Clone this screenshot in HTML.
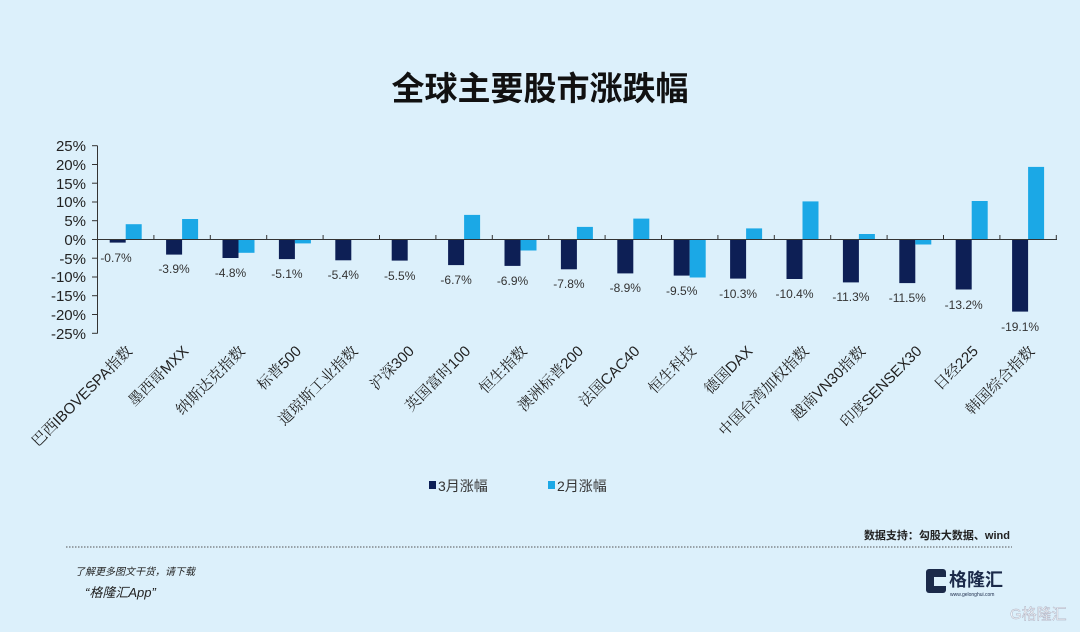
<!DOCTYPE html>
<html><head><meta charset="utf-8"><style>
body{margin:0;background:#dcf0fb;}
svg{display:block;font-family:"Liberation Sans","Noto Sans CJK SC",sans-serif;}
.cat{font-family:"Liberation Sans","Noto Serif CJK SC",serif;font-size:15px;fill:#222;}
.v{font-size:12px;fill:#333;text-anchor:middle;}
.y{font-size:15px;fill:#222;text-anchor:end;}
</style></head><body>
<svg width="1080" height="632" viewBox="0 0 1080 632">
<rect width="1080" height="632" fill="#dcf0fb"/>
<text x="540" y="100" text-anchor="middle" font-size="33" font-weight="bold" fill="#111">全球主要股市涨跌幅</text>
<g class="y">
<text x="86" y="151">25%</text><text x="86" y="170">20%</text><text x="86" y="189">15%</text>
<text x="86" y="207">10%</text><text x="86" y="226">5%</text><text x="86" y="245">0%</text>
<text x="86" y="264">-5%</text><text x="86" y="282">-10%</text><text x="86" y="301">-15%</text>
<text x="86" y="320">-20%</text><text x="86" y="339">-25%</text>
</g>
<g stroke="#333" stroke-width="1">
<line x1="97.5" y1="145.7" x2="97.5" y2="333.5"/>
<line x1="92" y1="145.7" x2="97.5" y2="145.7"/><line x1="92" y1="164.5" x2="97.5" y2="164.5"/>
<line x1="92" y1="183.2" x2="97.5" y2="183.2"/><line x1="92" y1="202" x2="97.5" y2="202"/>
<line x1="92" y1="220.7" x2="97.5" y2="220.7"/><line x1="92" y1="239.5" x2="97.5" y2="239.5"/>
<line x1="92" y1="258.2" x2="97.5" y2="258.2"/><line x1="92" y1="277" x2="97.5" y2="277"/>
<line x1="92" y1="295.7" x2="97.5" y2="295.7"/><line x1="92" y1="314.5" x2="97.5" y2="314.5"/>
<line x1="92" y1="333.3" x2="97.5" y2="333.3"/>
</g>
<!-- March bars -->
<g fill="#0d1f55">
<rect x="109.7" y="240" width="16" height="2.6"/>
<rect x="166.1" y="240" width="16" height="14.6"/>
<rect x="222.5" y="240" width="16" height="18"/>
<rect x="278.9" y="240" width="16" height="19.1"/>
<rect x="335.3" y="240" width="16" height="20.3"/>
<rect x="391.7" y="240" width="16" height="20.6"/>
<rect x="448.1" y="240" width="16" height="25.1"/>
<rect x="504.5" y="240" width="16" height="25.9"/>
<rect x="560.9" y="240" width="16" height="29.3"/>
<rect x="617.3" y="240" width="16" height="33.4"/>
<rect x="673.7" y="240" width="16" height="35.6"/>
<rect x="730.1" y="240" width="16" height="38.6"/>
<rect x="786.5" y="240" width="16" height="39"/>
<rect x="842.9" y="240" width="16" height="42.4"/>
<rect x="899.3" y="240" width="16" height="43.1"/>
<rect x="955.7" y="240" width="16" height="49.5"/>
<rect x="1012.1" y="240" width="16" height="71.6"/>
</g>
<!-- Feb bars -->
<g fill="#1ba8e6">
<rect x="125.7" y="224.2" width="16" height="15.8"/>
<rect x="182.1" y="219" width="16" height="21"/>
<rect x="238.5" y="240" width="16" height="12.8"/>
<rect x="294.9" y="240" width="16" height="3.4"/>
<rect x="464.1" y="214.9" width="16" height="25.1"/>
<rect x="520.5" y="240" width="16" height="10.5"/>
<rect x="576.9" y="226.9" width="16" height="13.1"/>
<rect x="633.3" y="218.6" width="16" height="21.4"/>
<rect x="689.7" y="240" width="16" height="37.5"/>
<rect x="746.1" y="228.4" width="16" height="11.6"/>
<rect x="802.5" y="201.4" width="16" height="38.6"/>
<rect x="858.9" y="234" width="16" height="6"/>
<rect x="915.3" y="240" width="16" height="4.5"/>
<rect x="971.7" y="201" width="16" height="39"/>
<rect x="1028.1" y="166.9" width="16" height="73.1"/>
</g>
<g stroke="#333" stroke-width="1">
<line x1="97.5" y1="239.5" x2="1057" y2="239.5"/>
<line x1="153.9" y1="239.5" x2="153.9" y2="235"/><line x1="210.3" y1="239.5" x2="210.3" y2="235"/>
<line x1="266.7" y1="239.5" x2="266.7" y2="235"/><line x1="323.1" y1="239.5" x2="323.1" y2="235"/>
<line x1="379.5" y1="239.5" x2="379.5" y2="235"/><line x1="435.9" y1="239.5" x2="435.9" y2="235"/>
<line x1="492.3" y1="239.5" x2="492.3" y2="235"/><line x1="548.7" y1="239.5" x2="548.7" y2="235"/>
<line x1="605.1" y1="239.5" x2="605.1" y2="235"/><line x1="661.5" y1="239.5" x2="661.5" y2="235"/>
<line x1="717.9" y1="239.5" x2="717.9" y2="235"/><line x1="774.3" y1="239.5" x2="774.3" y2="235"/>
<line x1="830.7" y1="239.5" x2="830.7" y2="235"/><line x1="887.1" y1="239.5" x2="887.1" y2="235"/>
<line x1="943.5" y1="239.5" x2="943.5" y2="235"/><line x1="999.9" y1="239.5" x2="999.9" y2="235"/>
<line x1="1056.3" y1="239.5" x2="1056.3" y2="235"/>
</g>
<g class="v">
<text x="116" y="262">-0.7%</text>
<text x="174" y="273">-3.9%</text>
<text x="230.5" y="277">-4.8%</text>
<text x="286.9" y="278">-5.1%</text>
<text x="343.3" y="279">-5.4%</text>
<text x="399.7" y="280">-5.5%</text>
<text x="456.1" y="284">-6.7%</text>
<text x="512.5" y="285">-6.9%</text>
<text x="568.9" y="288">-7.8%</text>
<text x="625.3" y="292">-8.9%</text>
<text x="681.7" y="295">-9.5%</text>
<text x="738.1" y="298">-10.3%</text>
<text x="794.5" y="298">-10.4%</text>
<text x="850.9" y="301">-11.3%</text>
<text x="907.3" y="302">-11.5%</text>
<text x="963.7" y="309">-13.2%</text>
<text x="1020.1" y="331">-19.1%</text>
</g>
<g class="cat" text-anchor="end">
<text transform="translate(133,352) rotate(-45)">巴西IBOVESPA指数</text>
<text transform="translate(189.4,352) rotate(-45)">墨西哥MXX</text>
<text transform="translate(245.8,352) rotate(-45)">纳斯达克指数</text>
<text transform="translate(302.2,352) rotate(-45)">标普500</text>
<text transform="translate(358.6,352) rotate(-45)">道琼斯工业指数</text>
<text transform="translate(415,352) rotate(-45)">沪深300</text>
<text transform="translate(471.4,352) rotate(-45)">英国富时100</text>
<text transform="translate(527.8,352) rotate(-45)">恒生指数</text>
<text transform="translate(584.2,352) rotate(-45)">澳洲标普200</text>
<text transform="translate(640.6,352) rotate(-45)">法国CAC40</text>
<text transform="translate(697,352) rotate(-45)">恒生科技</text>
<text transform="translate(753.4,352) rotate(-45)">德国DAX</text>
<text transform="translate(809.8,352) rotate(-45)">中国台湾加权指数</text>
<text transform="translate(866.2,352) rotate(-45)">越南VN30指数</text>
<text transform="translate(922.6,352) rotate(-45)">印度SENSEX30</text>
<text transform="translate(979,352) rotate(-45)">日经225</text>
<text transform="translate(1035.4,352) rotate(-45)">韩国综合指数</text>
</g>
<rect x="429" y="481" width="7" height="8" fill="#0d1f55"/>
<text x="438" y="491" font-size="14" fill="#333">3月涨幅</text>
<rect x="548" y="481" width="7" height="8" fill="#1ba8e6"/>
<text x="557" y="491" font-size="14" fill="#333">2月涨幅</text>
<text x="1010" y="539" text-anchor="end" font-size="11" font-weight="bold" fill="#222">数据支持：勾股大数据、wind</text>
<line x1="66" y1="547" x2="1012" y2="547" stroke="#555" stroke-width="1" stroke-dasharray="1.5,1.5"/>
<text x="75" y="575" font-size="10" font-style="italic" fill="#222">了解更多图文干货，请下载</text>
<text x="85" y="597" font-size="13" font-style="italic" fill="#222">“格隆汇App”</text>
<rect x="926" y="569" width="20" height="24" rx="3" fill="#1b2a4a"/>
<rect x="934" y="577" width="12" height="9" fill="#dcf0fb"/>
<text x="949" y="586" font-size="18" font-weight="bold" fill="#1b2a4a">格隆汇</text>
<text x="950" y="596" font-size="5" fill="#1b2a4a">www.gelonghui.com</text>
<text x="1010" y="619" font-size="15" fill="#f4f8fb" stroke="#aab" stroke-width="0.4">G格隆汇</text>
</svg>
</body></html>
